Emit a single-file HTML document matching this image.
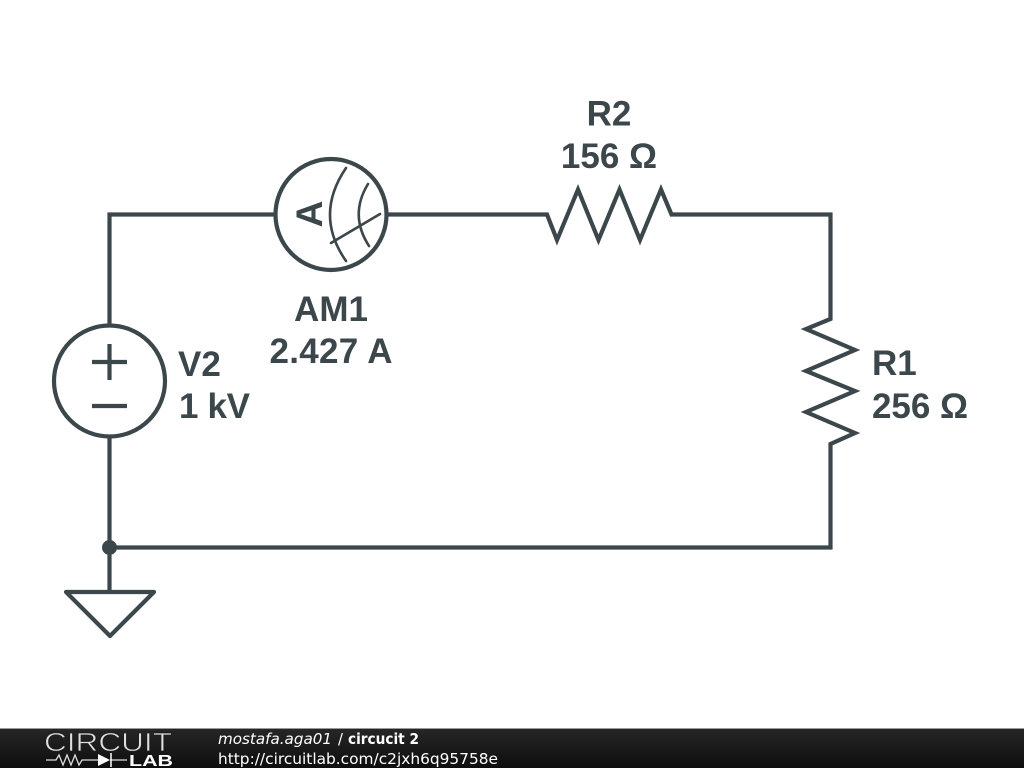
<!DOCTYPE html>
<html>
<head>
<meta charset="utf-8">
<style>
html,body{margin:0;padding:0;background:#fff;width:1024px;height:768px;overflow:hidden}
svg{display:block}
.l{font-family:"Liberation Sans",sans-serif;font-weight:bold;font-size:35px;fill:#3c474c}
.d{font-family:"DejaVu Sans",sans-serif;font-size:14.67px;fill:#fff}
</style>
</head>
<body>
<svg width="1024" height="768" viewBox="0 0 1024 768" xmlns="http://www.w3.org/2000/svg">
<defs>
<linearGradient id="b" x1="0" y1="0" x2="0" y2="1">
<stop offset="0" stop-color="#262626"/><stop offset="0.5" stop-color="#1a1a1a"/><stop offset="1" stop-color="#0e0e0e"/>
</linearGradient>
</defs>
<g fill="none" stroke="#3c474c" stroke-width="4.2" stroke-linejoin="miter">
<path d="M109.500 327V214.500H276"/>
<path d="M386 214.500H547L557 240L578 189.500L598.500 240L619.500 189.500L640 240L661 189.500L671.500 214.500H830.500V319L806 329L855 350L806 371L855 391L806 412L855 433L830.500 444V547.500H109.500"/>
<path d="M109.500 436V592"/>
<circle cx="331" cy="214.500" r="55.500"/>
<circle cx="109.500" cy="381" r="55.500"/>
<path d="M92 362H127M109.500 344V380M92 406H127"/>
<path stroke-linejoin="round" d="M66 592H154L110 636Z"/>
</g>
<circle cx="109.500" cy="547.500" r="7.500" fill="#3c474c"/>
<g fill="none" stroke="#3c474c" stroke-width="2.600" stroke-linecap="round">
<path d="M346 168Q314 215 346 261"/>
<path d="M368 184Q349 215 369 246"/>
<path d="M331 243L380 214"/>
</g>
<text class="l" x="609" y="125.500" text-anchor="middle">R2</text>
<text class="l" x="609" y="168" text-anchor="middle">156 Ω</text>
<text class="l" x="331" y="321" text-anchor="middle">AM1</text>
<text class="l" x="331" y="363" text-anchor="middle" textLength="123">2.427 A</text>
<text class="l" x="178" y="376">V2</text>
<text class="l" x="179" y="418" textLength="71">1 kV</text>
<text class="l" x="872" y="375">R1</text>
<text class="l" x="872" y="418" textLength="96">256 Ω</text>
<text class="l" transform="translate(322 214) rotate(-90)" text-anchor="middle" style="font-size:37px">A</text>
<rect x="0" y="728" width="1024" height="1" fill="#999"/>
<rect x="0" y="729" width="1024" height="39" fill="url(#b)"/>
<text x="44" y="751" font-family="'Liberation Sans',sans-serif" font-size="25.500" textLength="128" lengthAdjust="spacingAndGlyphs" fill="#e0e0e0" stroke="#1c1c1c" stroke-width="0.700">CIRCUIT</text>
<path d="M46 760H56L59 755L63 765L67 755L71 765L75 755L79 765L82 760H98M110 760H127" fill="none" stroke="#ddd" stroke-width="1.300"/>
<path d="M98 754L110 760L98 766Z" fill="#fff"/>
<path d="M111 753V767" stroke="#fff" stroke-width="1.500"/>
<text x="129" y="766" font-family="'Liberation Sans',sans-serif" font-weight="bold" font-size="15.500" textLength="44" lengthAdjust="spacingAndGlyphs" fill="#fff">LAB</text>
<text class="d" x="218" y="744" font-style="italic" textLength="114" lengthAdjust="spacingAndGlyphs">mostafa.aga01</text>
<text class="d" x="338" y="744">/</text>
<text class="d" x="348" y="744" font-weight="bold" textLength="71" lengthAdjust="spacingAndGlyphs">circucit 2</text>
<text class="d" x="218" y="764" textLength="280" lengthAdjust="spacingAndGlyphs">http://circuitlab.com/c2jxh6q95758e</text>
</svg>
</body>
</html>
